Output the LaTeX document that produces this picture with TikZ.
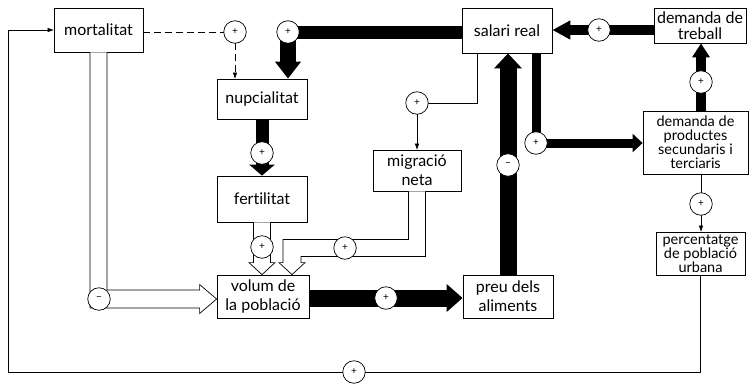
\documentclass[tikz,border=0pt]{standalone}
\usepackage{fontspec}
\setmainfont{Lato}[Ligatures={NoCommon}]
\usetikzlibrary{arrows.meta,calc}
\begin{document}
\begin{tikzpicture}[x=1pt,y=-1pt,
  box/.style={draw, line width=0.8pt, fill=white, inner sep=0pt, align=center,
    font=\fontsize{16}{19}\selectfont},
  smallbox/.style={box, font=\fontsize{14.5}{14}\selectfont},
  sign/.style={circle, draw, line width=0.7pt, fill=white, minimum size=22.5pt,
    inner sep=0pt, font=\fontsize{10}{10}\selectfont},
  thinline/.style={line width=0.7pt},
  thintip/.style={-{Triangle[length=6pt,width=4pt]}},
  hollow/.style={draw, line width=0.7pt, fill=white, line join=miter},
  blk/.style={line width=#1, draw=black},
]
\useasboundingbox (0,0) rectangle (754,383);
\fill[white] (0,0) rectangle (754,383);

% boxes
\node[box, minimum width=89pt, minimum height=44pt] (mort) at (98.5,30) {mortalitat};
\node[box, minimum width=90pt, minimum height=40pt] (nupc) at (262,99) {nupcialitat};
\node[box, minimum width=90pt, minimum height=46pt] (fert) at (262,199) {fertilitat};
\node[box, minimum width=92pt, minimum height=43pt] (vol) at (263,296.5) {volum de\\la població};
\node[box, minimum width=90pt, minimum height=45pt] (sal) at (507,30.5) {salari real};
\node[box, minimum width=92pt, minimum height=35pt, font=\fontsize{16}{16.5}\selectfont] (treb) at (700,25.5) {demanda de\\treball};
\node[smallbox, minimum width=105pt, minimum height=63pt] (prod) at (695.5,142.5) {demanda de\\productes\\secundaris i\\terciaris};
\node[box, minimum width=88pt, minimum height=41pt] (migr) at (417,170.5) {migració\\neta};
\node[box, minimum width=90pt, minimum height=43pt] (preu) at (508,296.5) {preu dels\\aliments};
\node[smallbox, minimum width=89pt, minimum height=43pt, font=\fontsize{14.5}{13}\selectfont] (perc) at (700.5,253.5) {percentatge\\de població\\urbana};

% sign positions
\coordinate (p1) at (235,32);
\coordinate (p2) at (288,32);
\coordinate (p3) at (262,153);
\coordinate (p4) at (262,247);
\coordinate (p5) at (345,248);
\coordinate (p6) at (99,299);
\coordinate (p7) at (386,298);
\coordinate (p8) at (508,165);
\coordinate (p9) at (536,143);
\coordinate (p10) at (701,82);
\coordinate (p11) at (599,30);
\coordinate (p12) at (417,103);
\coordinate (p13) at (701,204);
\coordinate (p14) at (354,372);
\coordinate (lb) at (8,372);
\coordinate (t3) at ($(vol.north)+(29,0)$);

% thick black arrows
\draw[blk=13pt] (p2 -| sal.west) -- (p2);
\draw[blk=16pt, -{Triangle[width=25pt,length=17pt]}] (p2) -- (p2 |- nupc.north);
\draw[blk=13pt, -{Triangle[width=25pt,length=11pt]}] (p3 |- nupc.south) -- (p3 |- fert.north);
\draw[blk=17pt, -{Triangle[width=27pt,length=16pt]}] (vol.east |- p7) -- (preu.west |- p7);
\draw[blk=17pt, -{Triangle[width=27pt,length=15pt]}] (preu.north -| p8) -- (sal.south -| p8);
\draw[blk=9pt, line join=miter, -{Triangle[width=18pt,length=10pt]}] (sal.south -| p9) -- (p9) -- (prod.west |- p9);
\draw[blk=10pt, -{Triangle[width=17pt,length=14pt]}] (prod.north -| p10) -- (treb.south -| p10);
\draw[blk=10pt, -{Triangle[width=18pt,length=18pt]}] (treb.west |- p11) -- (sal.east |- p11);

% hollow arrows
\draw[hollow] ($(mort.south)+(-8.5,0)$) |- ($(vol.west |- p6)+(-17,9)$) -- ++(0,5.5)
  -- (vol.west |- p6) -- ++(-17,-14.5) -- ++(0,5.5) -| ($(mort.south)+(8.5,0)$);
\draw[hollow] ($(fert.south)+(-8.5,0)$) -- ($(p4 |- vol.north)+(-8.5,-12)$) -- ++(-4.5,0)
  -- (p4 |- vol.north) -- ++(13,-12) -- ++(-4.5,0) -- ($(fert.south)+(8.5,0)$);
\draw[hollow] ($(migr.south)+(8.5,0)$) |- ($(p5)+(0,8.5)$) -| ($(t3)+(9,-12)$) -- ++(4,0)
  -- (t3) -- ++(-13,-12) -- ++(4,0) |- ($(p5)+(0,-8.5)$) -| ($(migr.south)+(-8.5,0)$);

% thin connectors
\draw[thinline, dash pattern=on 7pt off 4pt] (mort.east |- p1) -- (p1);
\draw[thinline, dash pattern=on 7pt off 4pt, thintip] (p1) -- (p1 |- nupc.north);
\draw[thinline] ($(sal.south)+(-30,0)$) |- (p12);
\draw[thinline, thintip] (p12) -- (migr.north);
\draw[thinline] (prod.south -| p13) -- (p13);
\draw[thinline, thintip] (p13) -- (p13 |- perc.north);
\draw[thinline, thintip] (perc.south) |- (lb) |- (mort.west);

% signs
\node[sign] (s1) at (p1) {+};
\node[sign] (s2) at (p2) {+};
\node[sign] (s3) at (p3) {+};
\node[sign] (s4) at (p4) {+};
\node[sign] (s5) at (p5) {+};
\node[sign] (s6) at (p6) {−};
\node[sign] (s7) at (p7) {+};
\node[sign] (s8) at (p8) {−};
\node[sign] (s9) at (p9) {+};
\node[sign] (s10) at (p10) {+};
\node[sign] (s11) at (p11) {+};
\node[sign] (s12) at (p12) {+};
\node[sign] (s13) at (p13) {+};
\node[sign] (s14) at (p14) {+};
\end{tikzpicture}
\end{document}
